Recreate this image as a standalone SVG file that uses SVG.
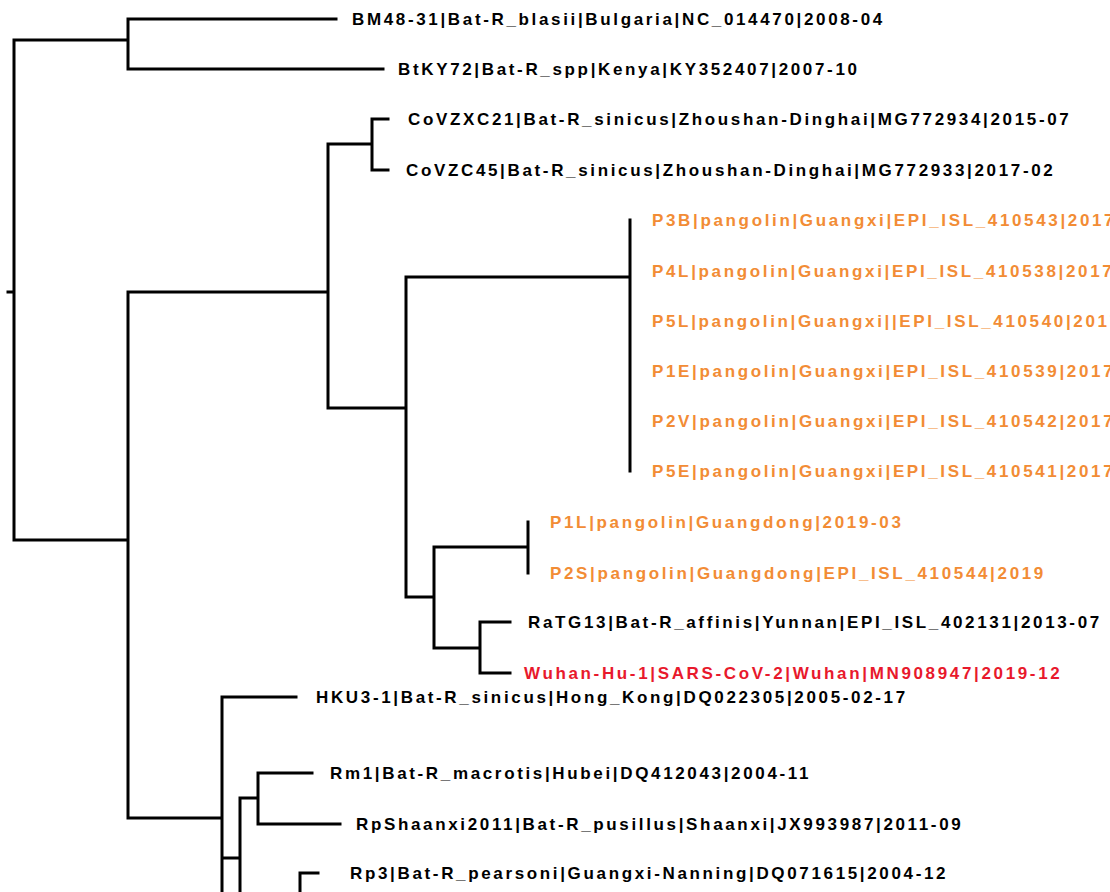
<svg xmlns="http://www.w3.org/2000/svg" width="1110" height="892" viewBox="0 0 1110 892">
<style>
.e{stroke:#000;stroke-width:3;fill:none;stroke-linecap:square}
text{font-family:"Liberation Sans",Arial,sans-serif;font-weight:bold;font-size:17px;letter-spacing:2.65px;dominant-baseline:central}
.o{fill:#f28c35}.r{fill:#e8192c}.k{fill:#000}
</style>
<rect width="1110" height="892" fill="#fff"/>
<g id="edges">
<path class="e" d="M8 292H14M14 40V540M14 40H128M128 19V69M128 19H336M128 69H383M14 540H128M128 292V818M128 292H328M328 144V408M328 144H372M372 119V170M372 119H388M372 170H388M328 408H406M406 277V597M406 277H630M630 220V471M406 597H434M434 547V648M434 547H528M528 522V573M434 648H480M480 622V673M480 622H510M480 673H510M128 818H222M222 697V892M222 697H296M222 858H240M240 798V892M240 798H258M258 773V824M258 773H312M258 824H340M300 873V892M300 873H318"/>
</g>
<g id="n1"><text class="k" x="352" y="19">BM48-31|Bat-R_blasii|Bulgaria|NC_014470|2008-04</text></g>
<g id="n2"><text class="k" x="398" y="69">BtKY72|Bat-R_spp|Kenya|KY352407|2007-10</text></g>
<g id="n3"><text class="k" x="408" y="119">CoVZXC21|Bat-R_sinicus|Zhoushan-Dinghai|MG772934|2015-07</text></g>
<g id="n4"><text class="k" x="406" y="170">CoVZC45|Bat-R_sinicus|Zhoushan-Dinghai|MG772933|2017-02</text></g>
<g id="n5"><text class="o" x="652" y="220">P3B|pangolin|Guangxi|EPI_ISL_410543|2017</text></g>
<g id="n6"><text class="o" x="652" y="271">P4L|pangolin|Guangxi|EPI_ISL_410538|2017</text></g>
<g id="n7"><text class="o" x="652" y="321">P5L|pangolin|Guangxi||EPI_ISL_410540|2017</text></g>
<g id="n8"><text class="o" x="652" y="371">P1E|pangolin|Guangxi|EPI_ISL_410539|2017</text></g>
<g id="n9"><text class="o" x="652" y="421">P2V|pangolin|Guangxi|EPI_ISL_410542|2017</text></g>
<g id="n10"><text class="o" x="652" y="471">P5E|pangolin|Guangxi|EPI_ISL_410541|2017</text></g>
<g id="n11"><text class="o" x="550" y="522">P1L|pangolin|Guangdong|2019-03</text></g>
<g id="n12"><text class="o" x="550" y="573">P2S|pangolin|Guangdong|EPI_ISL_410544|2019</text></g>
<g id="n13"><text class="k" x="528" y="622">RaTG13|Bat-R_affinis|Yunnan|EPI_ISL_402131|2013-07</text></g>
<g id="n14"><text class="r" x="524" y="673">Wuhan-Hu-1|SARS-CoV-2|Wuhan|MN908947|2019-12</text></g>
<g id="n15"><text class="k" x="316" y="697">HKU3-1|Bat-R_sinicus|Hong_Kong|DQ022305|2005-02-17</text></g>
<g id="n16"><text class="k" x="330" y="773">Rm1|Bat-R_macrotis|Hubei|DQ412043|2004-11</text></g>
<g id="n17"><text class="k" x="356" y="824">RpShaanxi2011|Bat-R_pusillus|Shaanxi|JX993987|2011-09</text></g>
<g id="n18"><text class="k" x="350" y="873">Rp3|Bat-R_pearsoni|Guangxi-Nanning|DQ071615|2004-12</text></g>
</svg>
